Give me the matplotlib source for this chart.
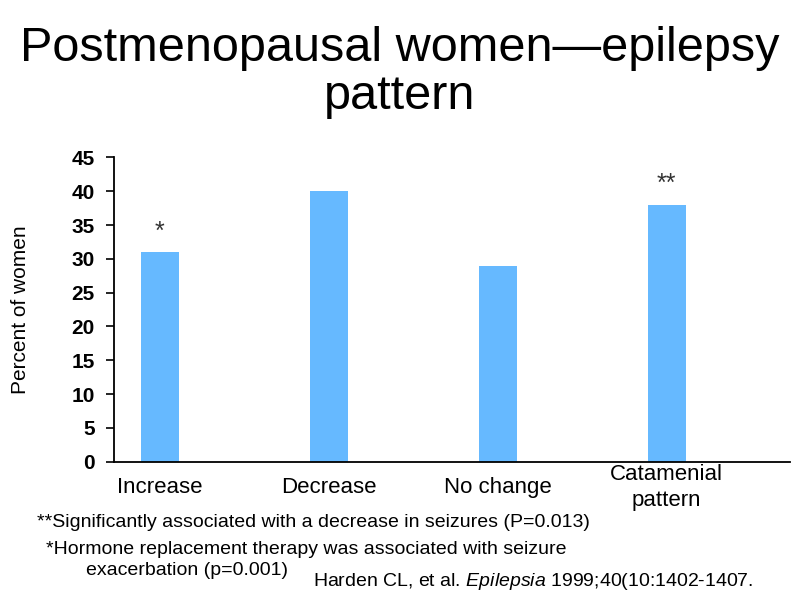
import numpy as np
import matplotlib.pyplot as plt

categories = ['Increase', 'Decrease', 'No change', 'Catamenial\npattern']
percent = [31, 40, 29, 38]
marks = ['*', '', '', '**']
yticks = [0, 5, 10, 15, 20, 25, 30, 35, 40, 45]

plt.rcParams['font.family'] = ['Liberation Sans', 'DejaVu Sans']
plt.rcParams['mathtext.fontset'] = 'custom'
plt.rcParams['mathtext.it'] = 'Liberation Sans:italic'
plt.rcParams['mathtext.rm'] = 'Liberation Sans'

fig = plt.figure(figsize=(8, 6.03), dpi=100)
ax = fig.add_axes([0.142, 0.2343, 0.8455, 0.5047])

x = np.arange(len(categories))
ax.bar(x, percent, width=0.225, color='#66b9ff')
for xi, v, m in zip(x, percent, marks):
    if m:
        ax.text(xi, v + 2.0, m, ha='center', va='baseline', fontsize=18, color='#333333')

ax.set_xlim(-0.272, 3.73)
ax.set_ylim(0, 45)
ax.set_yticks(yticks)
ax.set_yticklabels([str(t) for t in yticks], fontsize=15, fontweight='bold')
ax.tick_params(axis='y', direction='out', length=6, width=1.2, pad=7.5)
ax.set_xticks([])
for xi, c in zip(x, categories):
    ax.text(xi, -3.8, c, ha='center', va='center', fontsize=16, linespacing=1.3)

ax.spines['top'].set_visible(False)
ax.spines['right'].set_visible(False)
ax.spines['left'].set_linewidth(1.3)
ax.spines['bottom'].set_linewidth(1.3)
ax.set_ylabel('Percent of women', fontsize=15)
ax.yaxis.set_label_coords(-0.123, 0.5)

fig.text(0.5, 0.88, 'Postmenopausal women\u2014epilepsy\npattern', ha='center', va='center',
         fontsize=35, linespacing=1.1)

fig.text(0.046, 0.133, '**Significantly associated with a decrease in seizures (P=0.013)',
         fontsize=14, va='center')
fig.text(0.058, 0.0895, '*Hormone replacement therapy was associated with seizure',
         fontsize=14, va='center')
fig.text(0.107, 0.0547, 'exacerbation (p=0.001)', fontsize=14, va='center')
fig.text(0.391, 0.036, 'Harden CL, et al. $\\it{Epilepsia}$ 1999;40(10:1402-1407.',
         fontsize=14, va='center')

fig.savefig('out.png', dpi=100)
